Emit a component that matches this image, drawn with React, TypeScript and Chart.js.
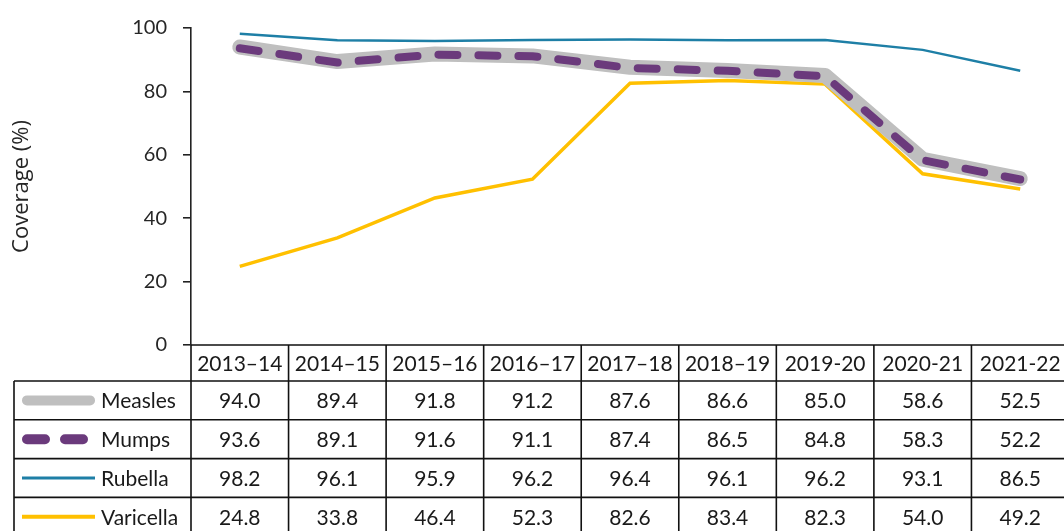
import React, { useEffect, useRef } from "react";
import { Chart, registerables } from "chart.js";

Chart.register(...registerables);

const categories = ["2013–14", "2014–15", "2015–16", "2016–17", "2017–18", "2018–19", "2019-20", "2020-21", "2021-22"];
const measles = [94.0, 89.4, 91.8, 91.2, 87.6, 86.6, 85.0, 58.6, 52.5];
const mumps = [93.6, 89.1, 91.6, 91.1, 87.4, 86.5, 84.8, 58.3, 52.2];
const rubella = [98.2, 96.1, 95.9, 96.2, 96.4, 96.1, 96.2, 93.1, 86.5];
const varicella = [24.8, 33.8, 46.4, 52.3, 82.6, 83.4, 82.3, 54.0, 49.2];
const yTicks = [0, 20, 40, 60, 80, 100];
const seriesNames = ["Measles", "Mumps", "Rubella", "Varicella"];

const FONT = "Lato";
const TEXT = "#1a1a1a";
const GREY = "#bfbfbf";
const PURPLE = "#6b3a7c";
const TEAL = "#1e7fa6";
const YELLOW = "#ffc000";

const CANVAS_W = 1090;
const CANVAS_H = 531;

const rowsData = [
  { name: seriesNames[0], values: measles, color: GREY, width: 10, dash: [] as number[], cap: "round" as CanvasLineCap },
  { name: seriesNames[1], values: mumps, color: PURPLE, width: 10, dash: [18, 20], cap: "round" as CanvasLineCap },
  { name: seriesNames[2], values: rubella, color: TEAL, width: 3, dash: [] as number[], cap: "butt" as CanvasLineCap },
  { name: seriesNames[3], values: varicella, color: YELLOW, width: 4, dash: [] as number[], cap: "butt" as CanvasLineCap },
];

const tablePlugin = {
  id: "dataTable",
  afterDraw(chart: any) {
    const ctx: CanvasRenderingContext2D = chart.ctx;
    const area = chart.chartArea;
    const xs = chart.scales.x;
    const n = categories.length;
    const colW = (area.right - area.left) / n;
    const top = area.bottom;
    const headerH = 36;
    const rowH = 38.8;
    const legendLeft = 14;
    const bottom = top + headerH + rowH * rowsData.length;
    ctx.save();
    ctx.font = `21px ${FONT}`;
    ctx.fillStyle = TEXT;
    ctx.textBaseline = "middle";
    ctx.textAlign = "center";
    categories.forEach((c, i) => ctx.fillText(c, xs.getPixelForValue(i), top + headerH / 2 + 1));
    rowsData.forEach((r, ri) => {
      const cy = top + headerH + rowH * ri + rowH / 2;
      ctx.textAlign = "center";
      ctx.fillStyle = TEXT;
      r.values.forEach((v, i) => ctx.fillText(v.toFixed(1), xs.getPixelForValue(i), cy + 1));
      ctx.textAlign = "left";
      ctx.fillText(r.name, 101, cy + 1);
      ctx.save();
      ctx.strokeStyle = r.color;
      ctx.lineWidth = r.width;
      ctx.lineCap = r.cap;
      ctx.setLineDash(r.dash);
      ctx.beginPath();
      if (r.cap === "round") {
        ctx.moveTo(27, cy);
        ctx.lineTo(r.dash.length ? 84 : 90, cy);
      } else {
        ctx.moveTo(22, cy);
        ctx.lineTo(95, cy);
      }
      ctx.stroke();
      ctx.restore();
    });
    ctx.strokeStyle = "#111";
    ctx.lineWidth = 1.6;
    ctx.setLineDash([]);
    ctx.beginPath();
    ctx.moveTo(area.left, top);
    ctx.lineTo(area.right, top);
    for (let r = 0; r <= rowsData.length; r++) {
      const y = top + headerH + rowH * r;
      ctx.moveTo(legendLeft, y);
      ctx.lineTo(area.right, y);
    }
    for (let i = 0; i <= n; i++) {
      const x = area.left + colW * i;
      ctx.moveTo(x, top);
      ctx.lineTo(x, bottom);
    }
    ctx.moveTo(legendLeft, top + headerH);
    ctx.lineTo(legendLeft, bottom);
    ctx.stroke();
    ctx.restore();
  },
};

export default function App() {
  const ref = useRef<HTMLCanvasElement | null>(null);
  useEffect(() => {
    if (!ref.current) return;
    const chart = new Chart(ref.current, {
      type: "line",
      data: {
        labels: categories,
        datasets: [
          {
            label: seriesNames[2],
            data: rubella,
            borderColor: TEAL,
            borderWidth: 2.5,
            pointRadius: 0,
            tension: 0,
            order: 0,
          },
          {
            label: seriesNames[1],
            data: mumps,
            borderColor: PURPLE,
            borderWidth: 8,
            borderDash: [19, 21],
            borderCapStyle: "round",
            borderJoinStyle: "round",
            pointRadius: 0,
            tension: 0,
            order: 1,
          },
          {
            label: seriesNames[0],
            data: measles,
            borderColor: GREY,
            borderWidth: 15,
            borderCapStyle: "round",
            borderJoinStyle: "round",
            pointRadius: 0,
            tension: 0,
            order: 2,
          },
          {
            label: seriesNames[3],
            data: varicella,
            borderColor: YELLOW,
            borderWidth: 3.5,
            pointRadius: 0,
            tension: 0,
            order: 3,
          },
        ],
      },
      options: {
        animation: false,
        responsive: false,
        devicePixelRatio: 1,
        layout: { padding: { left: 0, right: CANVAS_W - 1069, top: 23, bottom: 0 } },
        plugins: { legend: { display: false }, tooltip: { enabled: false } },
        scales: {
          x: {
            offset: true,
            ticks: { display: false },
            grid: { display: false },
            border: { display: false },
            afterFit: (s: any) => {
              s.height = CANVAS_H - 345;
            },
          },
          y: {
            min: 0,
            max: 100,
            afterBuildTicks: (s: any) => {
              s.ticks = yTicks.map((v) => ({ value: v }));
            },
            afterFit: (s: any) => {
              s.width = 191;
            },
            ticks: { padding: 16, color: "#262626", font: { family: FONT, size: 20 } },
            grid: { drawOnChartArea: false, drawTicks: true, tickLength: 8, color: "#222", lineWidth: 1.6 },
            border: { display: true, color: "#222", width: 1.6 },
            title: {
              display: true,
              text: "Coverage (%)",
              color: "#262626",
              font: { family: "Open Sans", size: 22 },
              padding: { top: 9, bottom: 0 },
            },
          },
        },
      },
      plugins: [tablePlugin],
    });
    return () => chart.destroy();
  }, []);
  return (
    <div style={{ position: "fixed", left: 0, top: 0, width: 1064, height: 531, overflow: "hidden", background: "#fff" }}>
      <canvas ref={ref} width={CANVAS_W} height={CANVAS_H} style={{ width: CANVAS_W, height: CANVAS_H, display: "block" }} />
    </div>
  );
}
